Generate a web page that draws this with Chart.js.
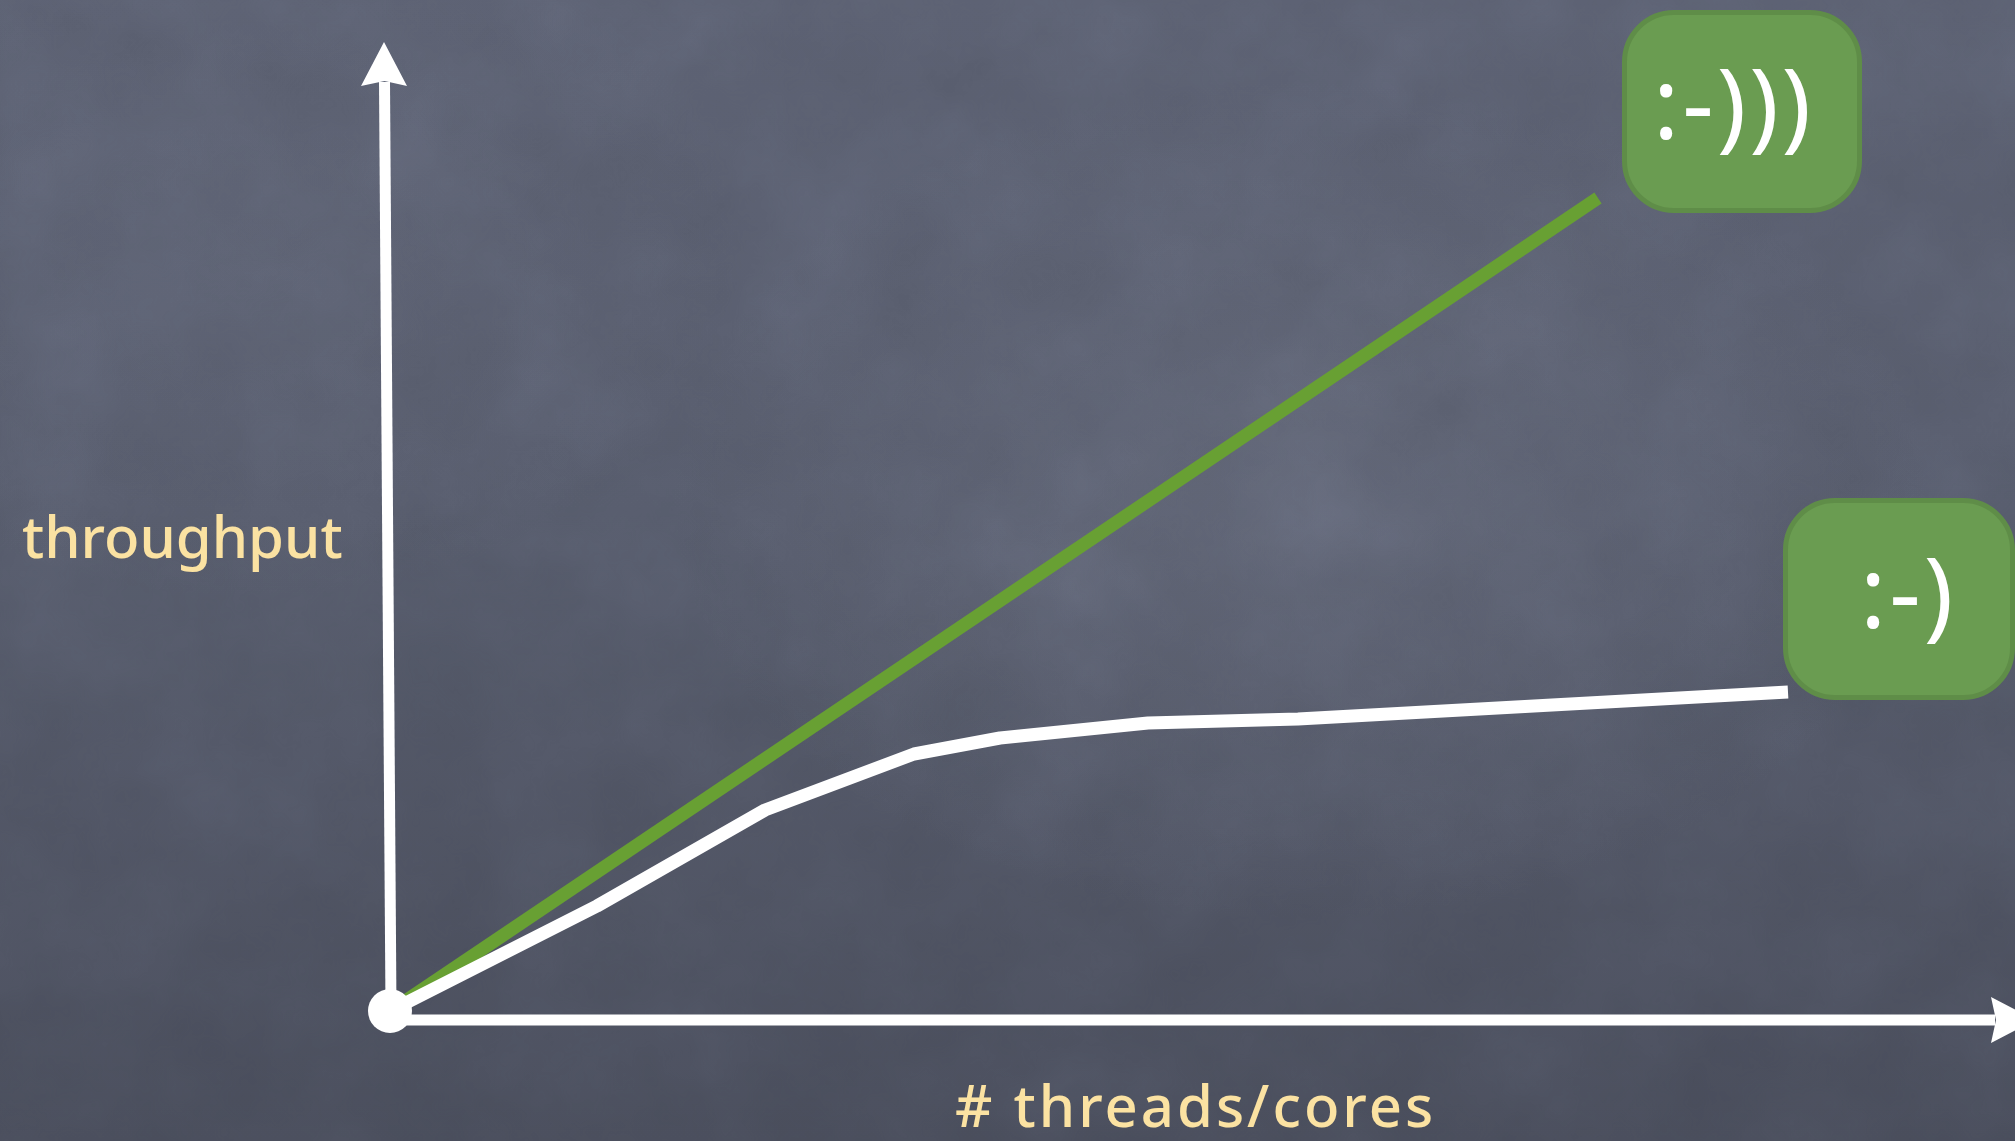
<!DOCTYPE html>
<html lang="en">

<head>
    <meta charset="UTF-8">
    <meta name="viewport" content="width=device-width, initial-scale=1.0">
    <script src="https://cdn.jsdelivr.net/npm/chart.js"></script>
    <title>throughput x threads/cores</title>
    <style>
        html,
        body {
            margin: 0;
            padding: 0;
        }

        body {
            width: 2015px;
            height: 1141px;
            overflow: hidden;
            position: relative;
            background:
                radial-gradient(ellipse 900px 600px at 1300px 500px, rgba(112, 117, 134, 0.4), rgba(112, 117, 134, 0) 70%),
                radial-gradient(ellipse 700px 500px at 250px 250px, rgba(100, 105, 122, 0.3), rgba(100, 105, 122, 0) 70%),
                linear-gradient(180deg, #5a5f70 0%, #555a6a 45%, #484c5a 100%);
        }

        #textura {
            position: absolute;
            left: 0;
            top: 0;
            width: 2015px;
            height: 1141px;
            opacity: 0.18;
            mix-blend-mode: overlay;
        }

        #grafico {
            position: absolute;
            left: 0;
            top: 0;
        }

        .rotulo {
            position: absolute;
            color: #fbe2a2;
            font-family: 'Noto Sans', sans-serif;
            font-weight: 500;
            font-size: 58px;
            line-height: 58px;
            white-space: nowrap;
        }

        .caixa {
            position: absolute;
            box-sizing: border-box;
            background: #6a9c51;
            border: 5px solid #5f8d48;
            border-radius: 52px;
            color: #ffffff;
            font-family: 'Noto Sans', sans-serif;
            font-size: 98px;
            line-height: 98px;
            white-space: nowrap;
        }

        .caixa span {
            position: absolute;
            letter-spacing: 3px;
        }
    </style>
</head>

<body>
    <svg id="textura" xmlns="http://www.w3.org/2000/svg">
        <filter id="giz">
            <feTurbulence type="fractalNoise" baseFrequency="0.008" numOctaves="5" seed="3" />
            <feColorMatrix type="saturate" values="0" />
        </filter>
        <rect width="100%" height="100%" filter="url(#giz)" />
    </svg>

    <canvas id="grafico" width="2015" height="1141" style="width: 2015px; height: 1141px;"></canvas>

    <div class="rotulo" id="rotulo_y" style="left: 22px; top: 507px;">throughput</div>
    <div class="rotulo" id="rotulo_x" style="left: 955px; top: 1076px; letter-spacing: 3px;"># threads/cores</div>

    <div class="caixa" id="caixa_verde" style="width: 240px; height: 203px;"><span style="left: 26px; top: 37px;">:-)))</span></div>
    <div class="caixa" id="caixa_branca" style="width: 232px; height: 202px;"><span style="left: 72px; top: 38px;">:-)</span></div>

    <script>
        // eixo x = numero de threads/cores, eixo y = throughput (unidades livres, sem ticks no slide)
        var ideal_x = [0, 12.06];
        var ideal_y = [0, 8.12];

        var real_x = [0, 2.05, 3.73, 5.22, 6.08, 7.56, 9.06, 13.96];
        var real_y = [0, 1.04, 2.00, 2.56, 2.72, 2.87, 2.91, 3.18];

        var rotulo_x = '# threads/cores';
        var rotulo_y = 'throughput';

        function pares(xs, ys) {
            var lista = [];
            for (let i = 0; i < xs.length; i++) {
                lista.push({ x: xs[i], y: ys[i] });
            }
            return lista;
        }

        // desenha os dois eixos com setas a partir da origem
        const eixos = {
            id: 'eixos',
            beforeDatasetsDraw(chart) {
                const ctx = chart.ctx;
                const x = chart.scales.x;
                const y = chart.scales.y;
                const x0 = x.getPixelForValue(0);
                const y0 = y.getPixelForValue(0);

                ctx.save();
                ctx.strokeStyle = '#ffffff';
                ctx.fillStyle = '#ffffff';
                ctx.lineWidth = 11;
                ctx.lineCap = 'butt';

                // eixo y (levemente inclinado como no quadro)
                var topo = y.getPixelForValue(9.68);
                var xTopo = x0 - 8;
                ctx.beginPath();
                ctx.moveTo(x0 - 1, y0);
                ctx.lineTo(xTopo + 0.5, topo + 40);
                ctx.stroke();
                ctx.beginPath();
                ctx.moveTo(xTopo, topo);
                ctx.lineTo(xTopo + 23, topo + 44);
                ctx.lineTo(xTopo + 0.5, topo + 39);
                ctx.lineTo(xTopo - 23, topo + 44);
                ctx.closePath();
                ctx.fill();

                // eixo x
                var yEixo = y0 + 10;
                var ponta = x.getPixelForValue(16.43);
                ctx.beginPath();
                ctx.moveTo(x0, yEixo);
                ctx.lineTo(ponta - 40, yEixo);
                ctx.stroke();
                ctx.beginPath();
                ctx.moveTo(ponta, yEixo);
                ctx.lineTo(ponta - 44, yEixo - 23);
                ctx.lineTo(ponta - 39, yEixo);
                ctx.lineTo(ponta - 44, yEixo + 23);
                ctx.closePath();
                ctx.fill();
                ctx.restore();
            },
            // bolinha branca na origem, por cima das linhas
            afterDatasetsDraw(chart) {
                const ctx = chart.ctx;
                const x0 = chart.scales.x.getPixelForValue(real_x[0]);
                const y0 = chart.scales.y.getPixelForValue(real_y[0]);
                ctx.save();
                ctx.fillStyle = '#ffffff';
                ctx.beginPath();
                ctx.arc(x0 - 2, y0 + 1, 22, 0, Math.PI * 2);
                ctx.fill();
                ctx.restore();
            }
        };

        const config = {
            type: 'line',
            data: {
                datasets: [{
                    label: 'real',
                    data: pares(real_x, real_y),
                    borderColor: '#ffffff',
                    borderWidth: 13,
                    borderJoinStyle: 'round',
                    borderCapStyle: 'butt',
                    tension: 0,
                    pointRadius: 0,
                    clip: false,
                    order: 0
                }, {
                    label: 'ideal',
                    data: pares(ideal_x, ideal_y),
                    borderColor: '#68a033',
                    borderWidth: 13,
                    borderCapStyle: 'butt',
                    tension: 0,
                    pointRadius: 0,
                    clip: false,
                    order: 1
                }]
            },
            options: {
                responsive: false,
                animation: false,
                devicePixelRatio: 1,
                layout: {
                    padding: { left: 392, right: 23, top: 110, bottom: 131 }
                },
                scales: {
                    x: { type: 'linear', min: 0, max: 16, display: false },
                    y: { type: 'linear', min: 0, max: 9, display: false }
                },
                plugins: {
                    legend: { display: false },
                    tooltip: { enabled: false }
                },
                events: []
            },
            plugins: [eixos]
        };

        let myChart = new Chart(document.getElementById('grafico'), config);

        document.getElementById('rotulo_x').textContent = rotulo_x;
        document.getElementById('rotulo_y').textContent = rotulo_y;

        // caixas verdes presas ao fim de cada linha
        function posicionarCaixas() {
            var x = myChart.scales.x;
            var y = myChart.scales.y;
            var n1 = ideal_x.length - 1;
            var n2 = real_x.length - 1;
            var cv = document.getElementById('caixa_verde');
            cv.style.left = (x.getPixelForValue(ideal_x[n1]) + 24) + 'px';
            cv.style.top = (y.getPixelForValue(ideal_y[n1]) - 188) + 'px';
            var cb = document.getElementById('caixa_branca');
            cb.style.left = (x.getPixelForValue(real_x[n2]) - 5) + 'px';
            cb.style.top = (y.getPixelForValue(real_y[n2]) - 194) + 'px';
        }
        posicionarCaixas();
    </script>
</body>

</html>
